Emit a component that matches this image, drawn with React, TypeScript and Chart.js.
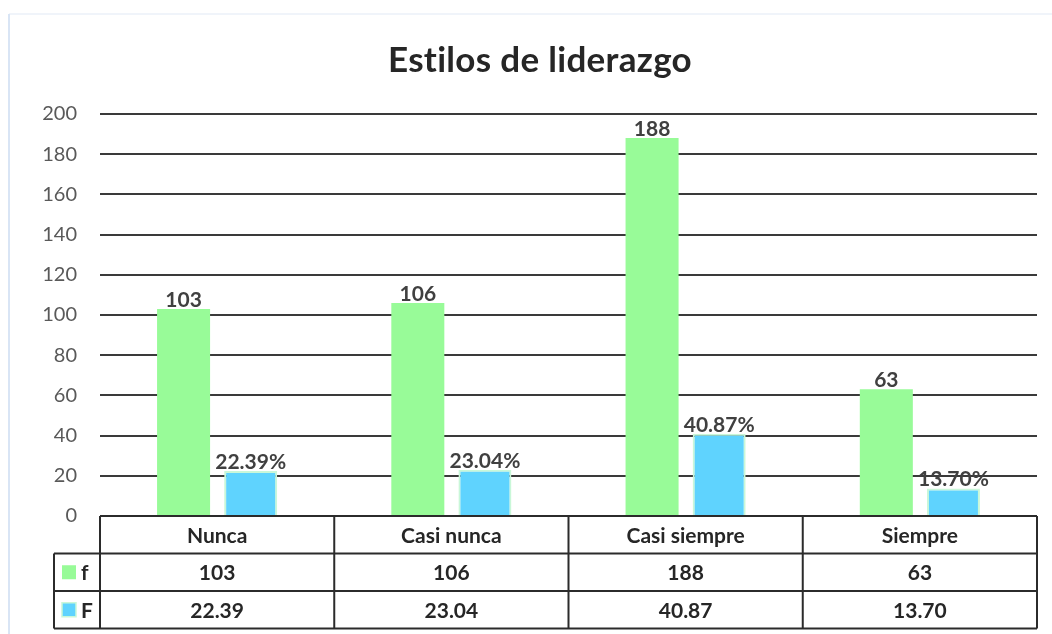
import React, { useEffect, useRef } from "react";
import { Chart, registerables } from "chart.js";

Chart.register(...registerables);

const TITLE = "Estilos de liderazgo";
const categories = ["Nunca", "Casi nunca", "Casi siempre", "Siempre"];
const seriesNames = ["f", "F"];
const fValues = [103, 106, 188, 63];
const FValues = [22.39, 23.04, 40.87, 13.7];
const yTicks = { min: 0, max: 200, step: 20 };

const GREEN = "#98FB98";
const BLUE = "#5FD3FE";
const BLUE_BORDER = "#C9F7D8";
const FONT = "Lato, 'Open Sans', sans-serif";

const frame = {
  id: "frame",
  beforeDraw(chart: any) {
    const { ctx, width, height } = chart;
    ctx.save();
    ctx.fillStyle = "#ffffff";
    ctx.fillRect(0, 0, width, height);
    ctx.strokeStyle = "#f0f4fa";
    ctx.lineWidth = 2;
    ctx.beginPath();
    ctx.moveTo(9, 14);
    ctx.lineTo(width, 14);
    ctx.stroke();
    ctx.strokeStyle = "#d9e5f5";
    ctx.beginPath();
    ctx.moveTo(9, 14);
    ctx.lineTo(9, height);
    ctx.stroke();
    // title
    ctx.font = `bold 35px ${FONT}`;
    (ctx as any).letterSpacing = "0.3px";
    ctx.fillStyle = "#262626";
    ctx.textAlign = "center";
    ctx.textBaseline = "alphabetic";
    ctx.fillText(TITLE, 540, 72);
    (ctx as any).letterSpacing = "0px";
    ctx.restore();
  },
};

const valueLabels = {
  id: "valueLabels",
  afterDatasetsDraw(chart: any) {
    const { ctx } = chart;
    ctx.save();
    ctx.font = `bold 21px ${FONT}`;
    ctx.fillStyle = "#404040";
    ctx.textAlign = "center";
    ctx.textBaseline = "alphabetic";
    chart.data.datasets.forEach((ds: any, di: number) => {
      const meta = chart.getDatasetMeta(di);
      meta.data.forEach((bar: any, i: number) => {
        const v = ds.data[i];
        const txt = di === 0 ? String(v) : v.toFixed(2) + "%";
        ctx.fillText(txt, bar.x, bar.y - 2);
      });
    });
    ctx.restore();
  },
};

const dataTable = {
  id: "dataTable",
  afterDraw(chart: any) {
    const { ctx, chartArea } = chart;
    const xs = chart.scales.x;
    const left = chartArea.left;
    const right = chartArea.right;
    const top = chartArea.bottom;
    const rowH = 37.5;
    const r1 = top + rowH;
    const r2 = top + rowH * 2;
    const r3 = top + rowH * 3;
    const legLeft = 54;
    const n = categories.length;
    const colW = (right - left) / n;

    ctx.save();
    ctx.strokeStyle = "#2b2b2b";
    ctx.lineWidth = 2;
    ctx.beginPath();
    ctx.moveTo(left, top);
    ctx.lineTo(right, top);
    ctx.moveTo(legLeft, r1);
    ctx.lineTo(right, r1);
    ctx.moveTo(legLeft, r2);
    ctx.lineTo(right, r2);
    ctx.moveTo(legLeft, r3);
    ctx.lineTo(right, r3);
    for (let i = 0; i <= n; i++) {
      const x = left + colW * i;
      ctx.moveTo(x, top);
      ctx.lineTo(x, r3);
    }
    ctx.moveTo(legLeft, r1);
    ctx.lineTo(legLeft, r3);
    ctx.stroke();

    ctx.font = `bold 21px ${FONT}`;
    ctx.fillStyle = "#262626";
    ctx.textAlign = "center";
    ctx.textBaseline = "middle";
    categories.forEach((c, i) => {
      const cx = xs.getPixelForValue(i);
      ctx.fillText(c, cx, (top + r1) / 2 + 1);
      ctx.fillText(String(fValues[i]), cx, (r1 + r2) / 2 + 1);
      ctx.fillText(FValues[i].toFixed(2), cx, (r2 + r3) / 2 + 1);
    });

    const keys = [
      { y: (r1 + r2) / 2, color: GREEN, border: null as string | null, name: seriesNames[0] },
      { y: (r2 + r3) / 2, color: BLUE, border: BLUE_BORDER, name: seriesNames[1] },
    ];
    keys.forEach((k) => {
      ctx.fillStyle = k.color;
      ctx.fillRect(62, k.y - 7, 14, 14);
      if (k.border) {
        ctx.strokeStyle = k.border;
        ctx.lineWidth = 1.5;
        ctx.strokeRect(62, k.y - 7, 14, 14);
      }
      ctx.fillStyle = "#262626";
      ctx.textAlign = "left";
      ctx.fillText(k.name, 81, k.y + 1);
    });
    ctx.restore();
  },
};

export default function App() {
  const ref = useRef<HTMLCanvasElement>(null);
  useEffect(() => {
    if (!ref.current) return;
    const chart = new Chart(ref.current, {
      type: "bar",
      data: {
        labels: categories,
        datasets: [
          {
            label: seriesNames[0],
            data: fValues,
            backgroundColor: GREEN,
            borderWidth: 0,
            categoryPercentage: 0.573,
            barPercentage: 0.79,
          },
          {
            label: seriesNames[1],
            data: FValues,
            backgroundColor: BLUE,
            borderColor: BLUE_BORDER,
            borderWidth: 2,
            categoryPercentage: 0.573,
            barPercentage: 0.79,
          },
        ],
      },
      options: {
        responsive: false,
        animation: false,
        devicePixelRatio: 1,
        layout: { padding: { left: 8, right: 15, top: 114, bottom: 118 } },
        plugins: {
          legend: { display: false },
          tooltip: { enabled: false },
          title: { display: false },
        },
        scales: {
          x: { display: false },
          y: {
            min: yTicks.min,
            max: yTicks.max,
            ticks: {
              stepSize: yTicks.step,
              color: "#595959",
              font: { family: FONT, size: 20 },
              padding: 23,
            },
            grid: { color: "#3a3a3a", lineWidth: 2, drawTicks: false },
            border: { display: false },
            afterFit(scale: any) {
              scale.width = 92;
            },
          },
        },
      },
      plugins: [frame, valueLabels, dataTable],
    });
    return () => chart.destroy();
  }, []);
  return (
    <div style={{ position: "absolute", left: 0, top: 0, width: 1052, height: 634 }}>
      <canvas ref={ref} width={1052} height={634} style={{ display: "block" }} />
    </div>
  );
}
